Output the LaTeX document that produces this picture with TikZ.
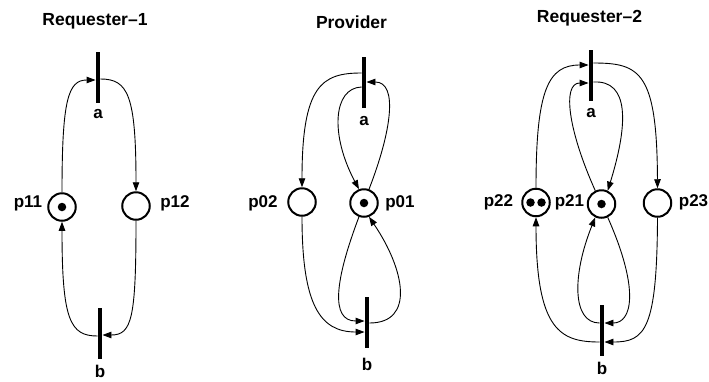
\documentclass[tikz,border=0pt]{standalone}
\usepackage{fontspec}
\setmainfont{Liberation Sans}
\usetikzlibrary{arrows.meta,calc}
\begin{document}
\begin{tikzpicture}[x=1pt,y=-1pt,
  place/.style={circle,draw,line width=2pt,minimum size=27.5pt,inner sep=0pt},
  trans/.style={rectangle,fill=black,minimum width=4.5pt,minimum height=51pt,inner sep=0pt},
  lbl/.style={font=\bfseries\fontsize{17}{20}\selectfont,anchor=base,inner sep=0pt},
  ttl/.style={font=\bfseries\fontsize{17.5}{20}\selectfont,anchor=base,inner sep=0pt},
  arc/.style={line width=0.9pt,-{Triangle[length=9pt,width=6.5pt]}},
  token/.style={circle,fill=black,minimum size=8.5pt,inner sep=0pt}]
\useasboundingbox (0,0) rectangle (709,381);

% ---------- Requester-1 ----------
\node[ttl] (t1) at (95,25) {Requester–1};
\node[trans] (a1) at (98,77.5) {};
\node[trans] (b1) at (100,333) {};
\node[place] (p11) at (62,207) {};
\node[place] (p12) at (136,206) {};
\node[token] (k11) at (p11) {};
\node[lbl] (la1) at (98,118) {a};
\node[lbl] (lb1) at (100,377) {b};
\node[lbl] (l11) at (28,207) {p11};
\node[lbl] (l12) at (175,207) {p12};
\draw[arc] (p11.north) .. controls (62,100) and (68,80) .. ($(a1.west)+(0,2.5)$);
\draw[arc] ($(a1.east)+(0,1.5)$) .. controls (128,79) and (136,95) .. (p12.north);
\draw[arc] (p12.south) .. controls (136,318) and (132,335) .. ($(b1.east)+(0,2)$);
\draw[arc] ($(b1.west)+(0,3)$) .. controls (70,336) and (62,320) .. (p11.south);

% ---------- Provider ----------
\node[ttl] (t2) at (351.5,28) {Provider};
\node[trans] (a2) at (364,82) {};
\node[trans] (b2) at (367,322.5) {};
\node[place] (p02) at (302,202) {};
\node[place] (p01) at (364,203) {};
\node[token] (k01) at (p01) {};
\node[lbl] (la2) at (364,125) {a};
\node[lbl] (lb2) at (367,370) {b};
\node[lbl] (l02) at (263,207) {p02};
\node[lbl] (l01) at (400,207) {p01};
\draw[arc] ($(a2.west)+(0,-9)$) .. controls (322,73) and (302,85) .. (p02.north);
\draw[arc] ($(a2.west)+(0,5)$) .. controls (333,88) and (330,135) .. (p01.110);
\draw[arc] (p01.70) .. controls (392,130) and (398,82) .. (a2.east);
\draw[arc] (p01.250) .. controls (335,280) and (330,321) .. ($(b2.west)+(0,-1.5)$);
\draw[arc] ($(b2.east)+(0,0.5)$) .. controls (415,323) and (405,270) .. (p01.290);
\draw[arc] (p02.south) .. controls (302,305) and (320,332) .. ($(b2.west)+(0,9.5)$);

% ---------- Requester-2 ----------
\node[ttl] (t3) at (589.5,22) {Requester–2};
\node[trans] (a3) at (591,75) {};
\node[trans] (b3) at (602,330.5) {};
\node[place] (p22) at (536,202.5) {};
\node[place] (p21) at (601.5,204) {};
\node[place] (p23) at (657.5,203) {};
\node[token] (k22a) at ($(p22)+(-5.5,0)$) {};
\node[token] (k22b) at ($(p22)+(5.5,0)$) {};
\node[token] (k21) at (p21) {};
\node[lbl] (la3) at (591,117) {a};
\node[lbl] (lb3) at (602,374) {b};
\node[lbl] (l22) at (498.5,206) {p22};
\node[lbl] (l21) at (569.5,206) {p21};
\node[lbl] (l23) at (693.5,206) {p23};
\draw[arc] (p22.north) .. controls (536,90) and (548,65) .. ($(a3.west)+(0,-10)$);
\draw[arc] ($(a3.east)+(0,-12)$) .. controls (640,63) and (657,72) .. (p23.north);
\draw[arc] (p21.115) .. controls (568,130) and (562,83) .. ($(a3.west)+(0,8)$);
\draw[arc] ($(a3.east)+(0,7)$) .. controls (630,80) and (628,125) .. (p21.65);
\draw[arc] (p21.295) .. controls (640,290) and (632,323) .. ($(b3.east)+(0,-7.5)$);
\draw[arc] ($(b3.west)+(0,-7.5)$) .. controls (572,323) and (572,275) .. (p21.245);
\draw[arc] (p23.south) .. controls (657,330) and (645,342) .. ($(b3.east)+(0,11.5)$);
\draw[arc] ($(b3.west)+(0,11.5)$) .. controls (560,342) and (536,330) .. (p22.south);
\end{tikzpicture}
\end{document}
